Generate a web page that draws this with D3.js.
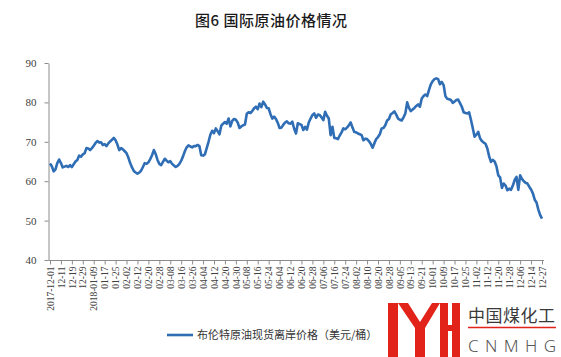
<!DOCTYPE html>
<html>
<head>
<meta charset="utf-8">
<script src="https://cdn.jsdelivr.net/npm/d3@7"></script>
<style>
	body { margin: 0; background: #fff; }
	svg { display: block; }
</style>
</head>
<body>
<div id="chart"></div>
<script>
// tick labels, one every 6 trading days
const tickLabels = [
	'2017-12-01', '12-11', '12-19', '12-29', '2018-01-09', '01-17', '01-25', '02-02', '02-12', '02-20',
	'02-28', '03-08', '03-16', '03-26', '04-04', '04-12', '04-20', '04-30', '05-08', '05-16',
	'05-24', '06-04', '06-12', '06-20', '06-28', '07-06', '07-16', '07-24', '08-02', '08-10',
	'08-20', '08-28', '09-05', '09-13', '09-21', '10-01', '10-09', '10-17', '10-25', '11-02',
	'11-12', '11-20', '11-28', '12-06', '12-14', '12-27'
];
const tickStep = 6;

// Brent spot price, USD/barrel, one value per trading day
const brent = [
	64.5, 63.8, 62.5, 63.0, 64.6, 65.5, 64.6, 63.5, 63.7, 63.9,
	63.6, 64.1, 63.6, 64.3, 65.0, 65.4, 66.5, 66.2, 66.8, 67.1,
	68.4, 68.3, 67.9, 68.4, 69.0, 69.7, 70.2, 69.8, 69.9, 69.2,
	69.4, 68.9, 69.6, 70.1, 70.5, 71.0, 70.4, 69.3, 67.9, 68.4,
	68.1, 67.6, 67.1, 66.0, 64.6, 63.5, 62.6, 62.2, 61.9, 62.2,
	62.7, 63.6, 64.6, 64.4, 64.8, 65.6, 66.6, 67.9, 66.9, 65.4,
	64.4, 64.1, 64.9, 65.7, 65.2, 64.8, 65.1, 64.4, 64.0, 63.6,
	63.9, 64.4, 65.2, 66.3, 67.6, 68.6, 69.1, 68.8, 68.6, 68.9,
	68.9, 69.2, 68.9, 66.6, 66.5, 66.8, 68.4, 70.0, 71.8, 72.8,
	72.2, 73.4, 72.7, 71.9, 74.1, 74.6, 75.0, 74.6, 75.9, 73.9,
	75.3, 75.8, 75.6, 74.9, 73.5, 73.9, 74.2, 74.4, 77.1, 77.5,
	77.3, 77.8, 78.5, 78.9, 78.3, 79.7, 78.8, 80.2, 79.5, 78.6,
	78.5, 77.0, 75.9, 76.4, 75.8, 74.8, 73.5, 73.6, 74.3, 74.9,
	75.2, 74.7, 74.6, 75.1, 73.3, 72.1, 74.7, 74.5, 74.3, 73.0,
	73.8, 73.1, 74.9, 75.9, 76.8, 77.2, 76.1, 76.9, 76.8, 76.2,
	75.5, 77.6, 76.6, 75.9, 71.7, 73.8, 71.0, 70.9, 70.7, 71.6,
	72.4, 73.4, 73.2, 73.6, 74.2, 74.9, 73.6, 72.5, 72.4, 72.1,
	71.9, 71.7, 70.4, 70.8, 70.7, 70.2, 69.5, 68.5, 69.6, 70.7,
	71.2, 71.9, 73.4, 73.5, 74.2, 75.4, 75.8, 77.0, 77.3, 77.7,
	76.9, 75.9, 75.6, 75.4, 76.2, 77.2, 80.0, 78.6, 77.8, 78.2,
	78.6, 79.1, 79.5, 78.9, 81.0, 81.6, 82.0, 81.6, 83.2, 84.6,
	85.4, 85.9, 86.1, 85.9, 84.6, 85.2, 84.4, 81.6, 80.9, 80.8,
	80.6, 79.9, 80.2, 80.6, 80.7, 79.8, 78.9, 77.5, 77.3, 77.2,
	77.5, 75.6, 73.5, 71.3, 71.8, 72.5, 70.9, 70.2, 69.8, 69.5,
	68.3, 66.3, 64.9, 65.4, 65.0, 63.8, 61.5, 61.0, 58.3, 59.4,
	58.9, 57.7, 58.1, 57.8, 58.9, 60.3, 61.1, 57.8, 61.5, 60.6,
	60.0, 59.6, 59.4, 58.6, 57.9, 56.9, 55.3, 54.6, 52.8, 51.4, 50.5
];
const yTicks = [40, 50, 60, 70, 80, 90];

const title = '图6  国际原油价格情况';
const seriesName = '布伦特原油现货离岸价格（美元/桶）';

const width = 561;
const height = 357;
const blue = '#2f6db5';
const axisGrey = '#8c8c8c';

const svg = d3.select('#chart')
	.append('svg')
	.attr('width', width)
	.attr('height', height)
	.attr('viewBox', `0 0 ${width} ${height}`);

svg.append('text')
	.attr('x', 271)
	.attr('y', 26)
	.attr('text-anchor', 'middle')
	.attr('textLength', 152)
	.style('font-family', '"Noto Sans CJK SC", sans-serif')
	.style('font-size', '15px')
	.style('font-weight', 500)
	.style('fill', '#1a1a1a')
	.text(title);

const x = d3.scaleLinear()
	.domain([0, brent.length - 1])
	.range([50, 542]);

const y = d3.scaleLinear()
	.domain([40, 90])
	.range([260, 63]);

// y axis
const yAxis = svg.append('g')
	.attr('transform', 'translate(48.5,0)')
	.call(d3.axisLeft(y).tickValues(yTicks).tickSize(4).tickPadding(8).tickSizeOuter(0));

// x axis
const xAxis = svg.append('g')
	.attr('transform', 'translate(0,260.5)')
	.call(d3.axisBottom(x)
		.tickValues(tickLabels.map((d, i) => i * tickStep))
		.tickFormat((d, i) => tickLabels[i])
		.tickSize(4)
		.tickSizeOuter(0));

xAxis.select('.domain').attr('d', 'M48.5,0H544');

xAxis.selectAll('text')
	.attr('transform', 'rotate(-90)')
	.attr('x', -6)
	.attr('y', 0)
	.attr('dy', '0.33em')
	.style('text-anchor', 'end')
	.style('font-size', '9.5px');

yAxis.selectAll('text')
	.style('font-size', '11px');

svg.selectAll('.domain, .tick line')
	.attr('stroke', axisGrey);

svg.selectAll('.tick text')
	.style('font-family', '"Liberation Serif", "Times New Roman", serif')
	.style('fill', '#404040');

// price line
const line = d3.line()
	.x((d, i) => x(i))
	.y(d => y(d));

svg.append('path')
	.datum(brent)
	.attr('fill', 'none')
	.attr('stroke', blue)
	.attr('stroke-width', 2.6)
	.attr('stroke-linejoin', 'round')
	.attr('d', line);

// legend
const legend = svg.append('g')
	.attr('transform', 'translate(167,335)');

legend.append('line')
	.attr('x1', 0)
	.attr('x2', 26)
	.attr('stroke', blue)
	.attr('stroke-width', 2.6);

legend.append('text')
	.attr('x', 30)
	.attr('y', 4)
	.style('font-family', '"Noto Sans CJK SC", sans-serif')
	.style('font-size', '11px')
	.style('fill', '#333')
	.text(seriesName);

// watermark logo, bottom right
const logo = svg.append('g');
const red = '#e2231a';

logo.append('rect').attr('x', 384).attr('y', 300).attr('width', 177).attr('height', 57).attr('fill', '#fff');
logo.append('rect').attr('x', 388).attr('y', 303).attr('width', 10).attr('height', 54).attr('fill', red);
logo.append('path')
	.attr('d', 'M398,303 L408,303 L420,322 L432,303 L440,303 L425,328 L425,357 L415,357 L415,328 Z')
	.attr('fill', red);
logo.append('rect').attr('x', 440).attr('y', 303).attr('width', 8).attr('height', 54).attr('fill', red);
logo.append('rect').attr('x', 452).attr('y', 303).attr('width', 8).attr('height', 54).attr('fill', red);
logo.append('rect').attr('x', 440).attr('y', 325).attr('width', 20).attr('height', 6).attr('fill', red);

logo.append('text')
	.attr('x', 468)
	.attr('y', 322)
	.attr('textLength', 87)
	.style('font-family', '"Noto Sans CJK SC", sans-serif')
	.style('font-size', '17px')
	.style('fill', '#3a3a3a')
	.text('中国煤化工');

logo.append('line')
	.attr('x1', 468)
	.attr('x2', 556)
	.attr('y1', 327.5)
	.attr('y2', 327.5)
	.attr('stroke', red)
	.attr('stroke-width', 1.5);

logo.append('text')
	.attr('x', 468)
	.attr('y', 352)
	.attr('textLength', 88)
	.style('font-family', '"Noto Sans", sans-serif')
	.style('font-size', '17px')
	.style('font-weight', 300)
	.style('fill', '#555')
	.text('CNMHG');
</script>
</body>
</html>
